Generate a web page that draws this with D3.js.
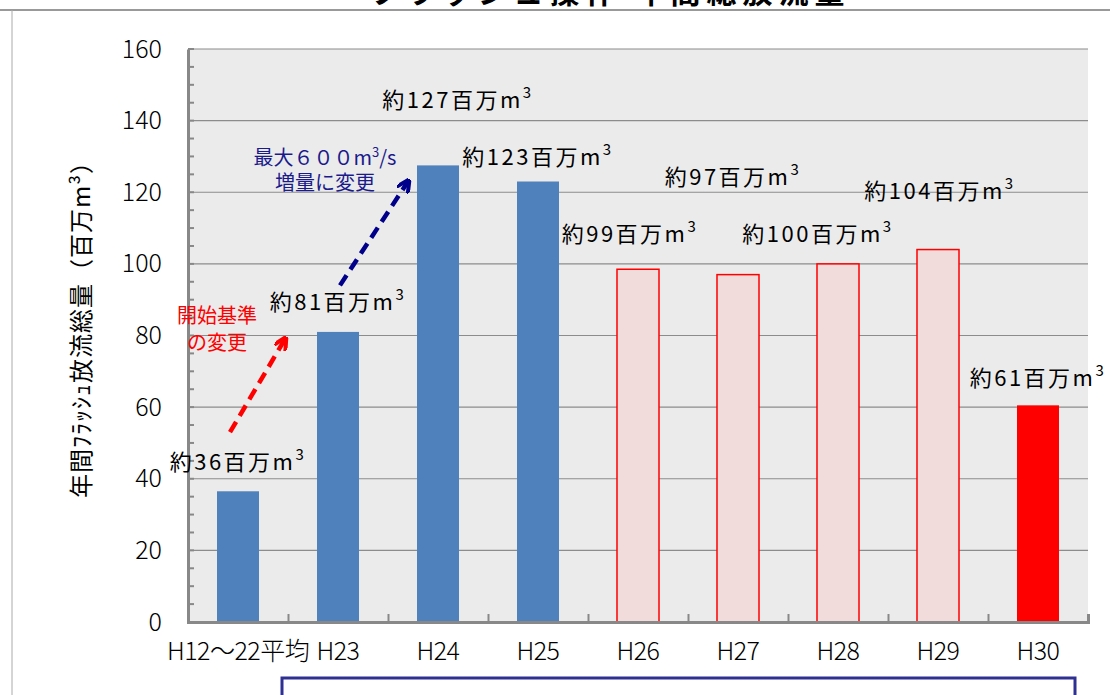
<!DOCTYPE html>
<html><head><meta charset="utf-8">
<script src="https://cdn.jsdelivr.net/npm/d3@7"></script>
<style>body{margin:0;background:#fff}text{font-family:"Noto Sans CJK JP",sans-serif}</style>
</head><body><div id="chart"></div>
<script>
const categories = ["H12～22平均","H23","H24","H25","H26","H27","H28","H29","H30"];
const values = [36.5, 81, 127.5, 123, 98.5, 97, 100, 104, 60.5];
const barTypes = ["blue","blue","blue","blue","pink","pink","pink","pink","red"];
const yTicks = [0,20,40,60,80,100,120,140,160];
// value labels: [text number, position (category index), y value]
const valueLabels = [["36",0,42.5],["81",1,87],["127",2.2,143.5],["123",3,127.6],["99",3.92,106],["97",4.95,122],["100",5.8,106],["104",7.02,118],["61",8.0,66]];

const width = 1110, height = 695;
const margin = {left:188, right:22, top:49, bottom:73};
const innerWidth = width - margin.left - margin.right, innerHeight = height - margin.top - margin.bottom;

const svg = d3.select("#chart").append("svg").attr("width", width).attr("height", height);
svg.append("line").attr("x1",0).attr("x2",width).attr("y1",10).attr("y2",10).attr("stroke","#999").attr("stroke-width",2);
svg.append("line").attr("x1",12).attr("x2",12).attr("y1",10).attr("y2",height).attr("stroke","#aaa");
svg.append("text").attr("x",610).attr("y",3).attr("text-anchor","middle").attr("font-size",30).attr("font-weight","bold").attr("letter-spacing",6).text("フラッシュ操作 年間総放流量");

const xScale = d3.scaleBand().domain(categories).range([0, innerWidth]).paddingInner(0.58).paddingOuter(0.29);
const xPos = d3.scaleLinear().domain([0, categories.length]).range([0, innerWidth]);
const yScale = d3.scaleLinear().domain([0,160]).range([innerHeight,0]);
const colors = {blue:["#4f81bd","none"], pink:["#f2dcdb","#ff0000"], red:["#ff0000","none"]};

const g = svg.append("g").attr("transform",`translate(${margin.left},${margin.top})`);
g.append("rect").attr("width",innerWidth).attr("height",innerHeight).attr("fill","#ebebeb");
g.selectAll(".grid").data(yTicks.slice(1)).join("line").attr("x1",0).attr("x2",innerWidth)
  .attr("y1",d=>yScale(d)).attr("y2",d=>yScale(d)).attr("stroke","#8c8c8c").attr("stroke-width",1.2);

g.selectAll(".bar").data(values).join("rect")
  .attr("x",(d,i)=>xScale(categories[i])).attr("y",d=>yScale(d))
  .attr("width",xScale.bandwidth()).attr("height",d=>innerHeight-yScale(d))
  .attr("fill",(d,i)=>colors[barTypes[i]][0]).attr("stroke",(d,i)=>colors[barTypes[i]][1]).attr("stroke-width",1.5);

const leftAxis = d3.axisLeft(yScale).tickValues(yTicks).tickSize(0).tickPadding(26);
const la = g.append("g").call(leftAxis);
la.select(".domain").attr("stroke","#888").attr("stroke-width",3);
la.selectAll("text").attr("font-size",25).attr("fill","#000").style("font-family","Noto Sans CJK JP, sans-serif").attr("font-weight",300);
g.selectAll(".minor").data(d3.range(0,161,5)).join("line").attr("x1",0).attr("x2",6)
  .attr("y1",d=>yScale(d)).attr("y2",d=>yScale(d)).attr("stroke","#888").attr("stroke-width",2);

const bottomAxis = d3.axisBottom(xPos).tickValues(d3.range(0, categories.length+1)).tickSize(-8).tickFormat("");
const ba = g.append("g").attr("transform",`translate(0,${innerHeight})`).call(bottomAxis);
ba.select(".domain").attr("stroke","#888").attr("stroke-width",3);
ba.selectAll("line").attr("stroke","#888").attr("stroke-width",2);
g.selectAll(".xlab").data(categories).join("text")
  .attr("x",d=>xScale(d)+xScale.bandwidth()/2).attr("y",innerHeight+38).attr("text-anchor","middle")
  .attr("font-size",25).attr("font-weight",300).attr("letter-spacing",-0.5).text(d=>d);

const vl = g.selectAll(".vlab").data(valueLabels).join("text")
  .attr("x",d=>xPos(d[1]+0.5)).attr("y",d=>yScale(d[2])).attr("text-anchor","middle").attr("font-size",22).attr("letter-spacing",2.5);
vl.append("tspan").text(d=>"約"+d[0]+"百万m");
vl.append("tspan").attr("dy",-10).attr("font-size",15).text("3");

// arrows
const defs = svg.append("defs");
[["ar","#ff0000"],["ab","#00008b"]].forEach(([id,c])=>{
  defs.append("marker").attr("id",id).attr("viewBox","0 0 10 10").attr("refX",8).attr("refY",5)
    .attr("markerWidth",3).attr("markerHeight",3).attr("orient","auto")
    .append("path").attr("d","M0,0 L10,5 L0,10").attr("fill","none").attr("stroke",c).attr("stroke-width",3);
});
const arrows = [[0.42,53,0.97,79,"#ff0000","ar"],[1.52,94,2.2,123,"#00008b","ab"]];
g.selectAll(".arrow").data(arrows).join("line")
  .attr("x1",d=>xPos(d[0])).attr("y1",d=>yScale(d[1])).attr("x2",d=>xPos(d[2])).attr("y2",d=>yScale(d[3]))
  .attr("stroke",d=>d[4]).attr("stroke-width",4.5).attr("stroke-dasharray","12,7").attr("marker-end",d=>`url(#${d[5]})`);

const notes = [["開始基準",0.29,83.5,"#ff0000"],["の変更",0.29,76,"#ff0000"],["増量に変更",1.37,120.7,"#1a1a8c"]];
g.selectAll(".note").data(notes).join("text").attr("x",d=>xPos(d[1])).attr("y",d=>yScale(d[2]))
  .attr("text-anchor","middle").attr("font-size",20).attr("fill",d=>d[3]).text(d=>d[0]);
const bn = g.append("text").attr("x",xPos(1.37)).attr("y",yScale(127.6)).attr("text-anchor","middle").attr("font-size",20).attr("fill","#1a1a8c");
bn.append("tspan").text("最大６００m");
bn.append("tspan").attr("dy",-8).attr("font-size",13).text("3");
bn.append("tspan").attr("dy",8).text("/s");

svg.append("text").attr("transform",`translate(90,${margin.top+innerHeight/2-12}) rotate(-90)`)
  .attr("text-anchor","middle").attr("font-size",24).attr("letter-spacing",1).text("年間ﾌﾗｯｼｭ放流総量（百万m³）");

svg.append("rect").attr("x",282).attr("y",678).attr("width",793).attr("height",40).attr("fill","none").attr("stroke","#2e3192").attr("stroke-width",3);
</script></body></html>
